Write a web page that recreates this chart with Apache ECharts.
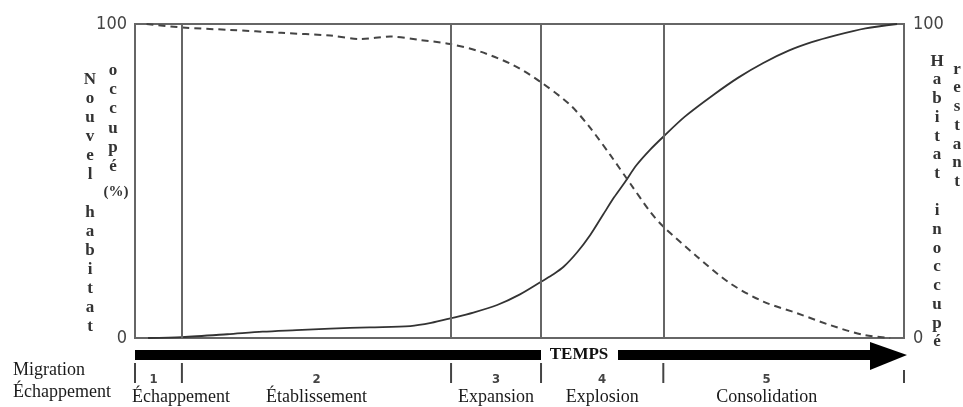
<!DOCTYPE html>
<html>
<head>
<meta charset="utf-8">
<script src="https://cdn.jsdelivr.net/npm/echarts@6/dist/echarts.min.js"></script>
<style>
  html, body { margin: 0; padding: 0; background: #fff; }
  #chart { width: 963px; height: 407px; }
</style>
</head>
<body>
<div id="chart"></div>
<script>
// temps (0-100) / pourcentage
var habitatOccupe = [
  [1.7, 0], [6.1, 0.3], [12, 1.2], [16.6, 2.0], [21, 2.5], [25.4, 3.0],
  [30.5, 3.4], [35.8, 3.8], [38.5, 4.8], [41.1, 6.3], [44, 8.1], [47.1, 10.5],
  [50, 13.8], [52.8, 17.9], [54.2, 20], [55.7, 22.6], [57.5, 27.3],
  [59.2, 32.8], [60.9, 39.4], [62.3, 44.8], [63.7, 49.6], [65.2, 55],
  [67.0, 60], [68.7, 64.1], [71.5, 70.5], [75.2, 77.4], [78.5, 83.0],
  [81.7, 87.6], [85, 91.5], [88, 94.2], [91, 96.3], [95, 98.6], [99.1, 100]
];
var habitatRestant = [
  [1.5, 100], [6.1, 98.9], [12.4, 98.1], [19, 97.2], [25.4, 96.3],
  [29.3, 95.2], [33.2, 96], [37.1, 94.9], [41, 93.6], [44.9, 91.2],
  [49.2, 86.9], [52.7, 81.6], [56.6, 74.2], [59.2, 66.9], [61.8, 58.3],
  [64.4, 49.2], [67.0, 40.2], [68.7, 35.5], [73.1, 25.9], [77.4, 17.4],
  [81.7, 11.6], [86.1, 7.9], [90.4, 4.1], [94.7, 1], [98.2, 0]
];
var phaseLimits = [0, 6.1, 41.1, 52.8, 68.7, 100];
var phaseNums = ['1', '2', '3', '4', '5'];
var phaseNames = ['Échappement', 'Établissement', 'Expansion', 'Explosion', 'Consolidation'];
var yTicks = [0, 100];

var serif = '"Liberation Serif", "DejaVu Serif", serif';
var narrow = '"Liberation Sans Narrow", "DejaVu Sans Condensed", "Liberation Sans", sans-serif';

var chart = echarts.init(document.getElementById('chart'));

var yAxisBase = {
  type: 'value',
  min: yTicks[0],
  max: yTicks[yTicks.length - 1],
  interval: yTicks[1] - yTicks[0],
  axisLine: { show: false },
  axisTick: { show: false },
  splitLine: { show: false },
  axisLabel: { color: '#444', fontSize: 18, fontFamily: narrow, margin: 8 }
};

var option = {
  animation: false,
  backgroundColor: '#fff',
  grid: { left: 135, top: 24, width: 769, height: 314, show: true, borderColor: '#666', borderWidth: 2 },
  xAxis: { type: 'value', min: 0, max: 100, show: false },
  yAxis: [
    Object.assign({}, yAxisBase, { position: 'left' }),
    Object.assign({}, yAxisBase, { position: 'right', axisLabel: Object.assign({}, yAxisBase.axisLabel, { margin: 9 }) })
  ],
  series: [
    {
      name: 'Nouvel habitat occupé',
      type: 'line',
      data: habitatOccupe,
      smooth: 0.3,
      showSymbol: false,
      lineStyle: { color: '#333', width: 1.8 },
      markLine: {
        silent: true,
        symbol: 'none',
        label: { show: false },
        lineStyle: { color: '#666', width: 2, type: 'solid' },
        data: phaseLimits.slice(1, -1).map(function (v) { return { xAxis: v }; })
      },
      z: 3
    },
    {
      name: 'Habitat inoccupé restant',
      type: 'line',
      data: habitatRestant,
      smooth: 0.3,
      showSymbol: false,
      lineStyle: { color: '#444', width: 2, type: [7, 5] },
      z: 3
    }
  ]
};
chart.setOption(option);

function px(v) { return chart.convertToPixel({ xAxisIndex: 0 }, v); }
function stack(word) { return word.split('').join('\n'); }

var g = [];
var x0 = px(0);
var barY = 355, headBase = 870, headTip = 907;
var tempsX = 579;

// flèche du temps
g.push({ type: 'rect', shape: { x: x0, y: barY - 5, width: 541 - x0, height: 10 }, style: { fill: '#000' } });
g.push({ type: 'rect', shape: { x: 618, y: barY - 5, width: headBase - 618, height: 10 }, style: { fill: '#000' } });
g.push({ type: 'polygon', shape: { points: [[headBase, barY - 13], [headTip, barY], [headBase, barY + 15]] }, style: { fill: '#000' } });
g.push({ type: 'text', x: tempsX, y: barY, style: { text: 'TEMPS', font: 'bold 17px ' + serif, fill: '#111', align: 'center', verticalAlign: 'middle' } });

// repères des phases
phaseLimits.forEach(function (v) {
  var x = px(v);
  g.push({ type: 'line', shape: { x1: x, y1: v === 100 ? 370 : 363, x2: x, y2: 383 }, style: { stroke: '#444', lineWidth: 2 } });
});
phaseNames.forEach(function (name, i) {
  var a = px(phaseLimits[i]);
  var b = i === phaseNames.length - 1 ? headBase : px(phaseLimits[i + 1]);
  var mid = (a + b) / 2;
  g.push({ type: 'text', x: mid - (i === 0 ? 5 : 0), y: 380, style: { text: phaseNums[i], font: 'bold 13px ' + narrow, fill: '#444', align: 'center', verticalAlign: 'middle' } });
  g.push({ type: 'text', x: i === 0 ? a - 3 : mid, y: 397, style: { text: name, font: '18px ' + serif, fill: '#1a1a1a', align: i === 0 ? 'left' : 'center', verticalAlign: 'middle' } });
});
g.push({ type: 'text', x: 13, y: 370, style: { text: 'Migration', font: '18px ' + serif, fill: '#1a1a1a', verticalAlign: 'middle' } });
g.push({ type: 'text', x: 13, y: 392, style: { text: 'Échappement', font: '18px ' + serif, fill: '#1a1a1a', verticalAlign: 'middle' } });

// titres verticaux
var vfont = 'bold 17px ' + serif;
g.push({ type: 'text', x: 90, y: 70, style: { text: stack('Nouvel habitat'), font: vfont, lineHeight: 19, fill: '#333', align: 'center', verticalAlign: 'top' } });
g.push({ type: 'text', x: 113, y: 61, style: { text: stack('occupé'), font: vfont, lineHeight: 19.2, fill: '#333', align: 'center', verticalAlign: 'top' } });
g.push({ type: 'text', x: 116, y: 192, style: { text: '(%)', font: 'bold 15px ' + serif, fill: '#333', align: 'center', verticalAlign: 'middle' } });
g.push({ type: 'text', x: 937, y: 52, style: { text: stack('Habitat inoccupé'), font: vfont, lineHeight: 18.7, fill: '#333', align: 'center', verticalAlign: 'top' } });
g.push({ type: 'text', x: 957, y: 60, style: { text: stack('restant'), font: vfont, lineHeight: 18.7, fill: '#333', align: 'center', verticalAlign: 'top' } });

chart.setOption({ graphic: g });
</script>
</body>
</html>
